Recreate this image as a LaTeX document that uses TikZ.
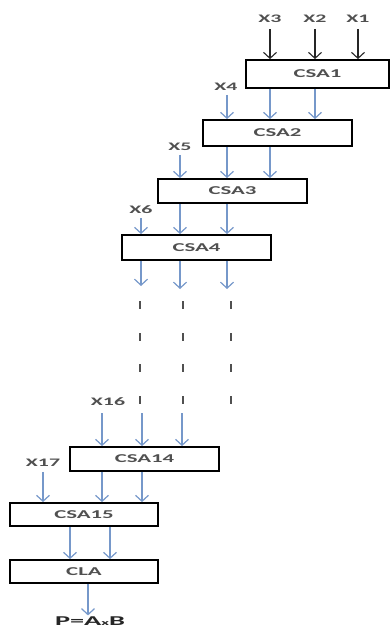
\documentclass[tikz,border=0pt]{standalone}
\usepackage{fontspec}
\setmainfont{Carlito}
\usetikzlibrary{arrows.meta}
\definecolor{flowblue}{RGB}{118,152,202}
\definecolor{inkgray}{RGB}{80,80,80}
% horizontally widened lettering
\newcommand{\widetxt}[1]{\scalebox{1.9}[1]{#1}}
\begin{document}
\begin{tikzpicture}[x=1pt,y=-1pt,
  blk/.style={draw=black, line width=1.8pt, fill=white, inner sep=0pt,
    font=\bfseries\fontsize{12}{12}\selectfont, text=inkgray},
  lbl/.style={font=\bfseries\fontsize{11.5}{11.5}\selectfont, text=inkgray, inner sep=1pt},
  topin/.style={draw=black!85, line width=1.1pt, -{Straight Barb[length=6pt,width=13pt]}},
  flow/.style={draw=flowblue, line width=1.2pt, -{Straight Barb[length=6pt,width=13pt]}},
  gap/.style={draw=inkgray, line width=1.5pt}
]
\useasboundingbox (0,0) rectangle (391,628);

% carry-save adder chain and final adder
\node[blk, minimum width=143pt, minimum height=28pt] (csa1)  at (317.5,74)  {\widetxt{CSA1}};
\node[blk, minimum width=149pt, minimum height=26pt] (csa2)  at (277.5,133) {\widetxt{CSA2}};
\node[blk, minimum width=149pt, minimum height=24pt] (csa3)  at (232.5,191) {\widetxt{CSA3}};
\node[blk, minimum width=149pt, minimum height=25pt] (csa4)  at (196.5,247.5) {\widetxt{CSA4}};
\node[blk, minimum width=149pt, minimum height=24pt] (csa14) at (144.5,459) {\widetxt{CSA14}};
\node[blk, minimum width=148pt, minimum height=23pt] (csa15) at (84,514.5)  {\widetxt{CSA15}};
\node[blk, minimum width=148pt, minimum height=23pt] (cla)   at (84,571.5)  {\widetxt{CLA}};

% operand labels
\node[lbl] (x3)  at (270,19)  {\widetxt{X3}};
\node[lbl] (x2)  at (315,19)  {\widetxt{X2}};
\node[lbl] (x1)  at (358,19)  {\widetxt{X1}};
\node[lbl] (x4)  at (226,87)  {\widetxt{X4}};
\node[lbl] (x5)  at (180,147) {\widetxt{X5}};
\node[lbl] (x6)  at (141,210) {\widetxt{X6}};
\node[lbl] (x16) at (108,402) {\widetxt{X16}};
\node[lbl] (x17) at (43,463)  {\widetxt{X17}};
\node[font=\bfseries\fontsize{13.5}{13.5}\selectfont, text=black!85, inner sep=1pt] (prod) at (90,621)
  {\scalebox{2.1}[1]{P=A{\fontsize{8}{8}\selectfont x}B}};

% column positions
\coordinate (c358) at (358,0);
\coordinate (c315) at (315,0);
\coordinate (c270) at (270,0);
\coordinate (c227) at (227,0);
\coordinate (c180) at (180,0);
\coordinate (c141) at (141,0);
\coordinate (c102) at (102,0);
\coordinate (c110) at (110,0);
\coordinate (c88)  at (88,0);
\coordinate (c70)  at (70,0);
\coordinate (c43)  at (43,0);

% free ends of the wires around the gap
\coordinate (o1) at (141,286);
\coordinate (o2) at (180,289);
\coordinate (o3) at (227,289);
\coordinate (i1) at (102,413);
\coordinate (i2) at (142,413);
\coordinate (i3) at (182,413);

% inputs to CSA1
\draw[topin] (x3.south) ++(0,5) -- (csa1.north -| c270);
\draw[topin] (x2.south) ++(0,5) -- (csa1.north -| c315);
\draw[topin] (x1.south) ++(0,5) -- (csa1.north -| c358);

% CSA1 -> CSA2
\draw[flow] (x4.south -| c227) ++(0,3) -- (csa2.north -| c227);
\draw[flow] (csa1.south -| c270) -- (csa2.north -| c270);
\draw[flow] (csa1.south -| c315) -- (csa2.north -| c315);

% CSA2 -> CSA3
\draw[flow] (x5.south) ++(0,3) -- (csa3.north -| c180);
\draw[flow] (csa2.south -| c227) -- (csa3.north -| c227);
\draw[flow] (csa2.south -| c270) -- (csa3.north -| c270);

% CSA3 -> CSA4
\draw[flow] (x6.south) ++(0,3) -- (csa4.north -| c141);
\draw[flow] (csa3.south -| c180) -- (csa4.north -| c180);
\draw[flow] (csa3.south -| c227) -- (csa4.north -| c227);

% CSA4 outputs
\draw[flow] (csa4.south -| c141) -- (o1);
\draw[flow] (csa4.south -| c180) -- (o2);
\draw[flow] (csa4.south -| c227) -- (o3);

% elided stages
\foreach \xx in {140,183,231}
  \foreach \yy in {305,337,368,400}
    \draw[gap] (\xx,\yy-4) -- (\xx,\yy+4);

% into CSA14
\draw[flow] (i1) -- (csa14.north -| i1);
\draw[flow] (i2) -- (csa14.north -| i2);
\draw[flow] (i3) -- (csa14.north -| i3);

% CSA14 -> CSA15
\draw[flow] (x17.south) ++(0,4) -- (csa15.north -| c43);
\draw[flow] (csa14.south -| c102) -- (csa15.north -| c102);
\draw[flow] (csa14.south -| i2) -- (csa15.north -| i2);

% CSA15 -> CLA
\draw[flow] (csa15.south -| c70) -- (cla.north -| c70);
\draw[flow] (csa15.south -| c110) -- (cla.north -| c110);

% product
\draw[flow] (cla.south -| c88) -- (prod.north -| c88);
\end{tikzpicture}
\end{document}
